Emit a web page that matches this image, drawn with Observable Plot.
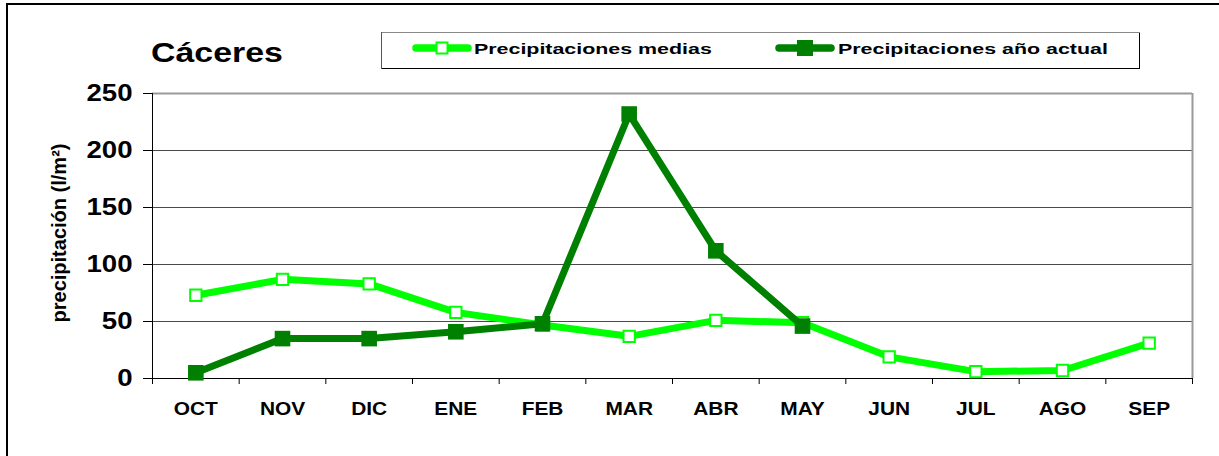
<!DOCTYPE html>
<html>
<head>
<meta charset="utf-8">
<script src="https://cdn.jsdelivr.net/npm/d3@7"></script>
<script src="https://cdn.jsdelivr.net/npm/@observablehq/plot@0.6"></script>
<style>
  html, body { margin: 0; padding: 0; background: #fff; }
  #wrap { position: relative; width: 1219px; height: 456px; overflow: hidden; font-family: "Liberation Sans", Arial, sans-serif; }
  #frame { position: absolute; left: 6px; top: 3px; width: 1260px; height: 520px; border: 2px solid #000; box-sizing: border-box; }
  #chart { position: absolute; left: 0; top: 0; }
  #chart svg text { font-weight: bold; font-family: "Liberation Sans", Arial, sans-serif; }
  #legend { position: absolute; left: 0; top: 0; }
  #legend text { font-family: "Liberation Sans", Arial, sans-serif; font-weight: bold; }
</style>
</head>
<body>
<div id="wrap">
  <div id="frame"></div>
  <div id="chart"></div>
  <svg id="legend" width="1219" height="90"></svg>
</div>
<script>
const months = ["OCT","NOV","DIC","ENE","FEB","MAR","ABR","MAY","JUN","JUL","AGO","SEP"];
const medias = [73, 87, 83, 58, 47, 37, 51, 49, 19, 6, 7, 31];
const actual = [5, 35, 35, 41, 48, 232, 112, 46];
const yTicks = [0, 50, 100, 150, 200, 250];
const titleText = "Cáceres";
const yLabel = "precipitación (l/m²)";
const seriesNames = ["Precipitaciones medias", "Precipitaciones año actual"];
const colors = ["#00FF00", "#008000"];

const mediasData = medias.map((v, i) => ({i, v}));
const actualData = actual.map((v, i) => ({i, v}));
const xc = d => d.i + 0.5;

const plot = Plot.plot({
  width: 1219,
  height: 456,
  marginLeft: 152,
  marginRight: 27,
  marginTop: 93,
  marginBottom: 78,
  x: {type: "linear", domain: [0, months.length], axis: null},
  y: {domain: [0, 250], axis: null},
  marks: [
    Plot.ruleY(yTicks.filter(t => t > 0 && t < 250), {stroke: "#4a4a4a", strokeWidth: 1}),
    Plot.ruleY([250], {stroke: "#9a9a9a", strokeWidth: 2}),
    Plot.ruleX([months.length], {y1: 0, y2: 250, stroke: "#9a9a9a", strokeWidth: 2}),
    Plot.axisY({ticks: yTicks, tickSize: 9, tickPadding: 11, fontSize: 23, stroke: "#000", label: null}),
    Plot.ruleX([0], {y1: 0, y2: 250, stroke: "#000", strokeWidth: 1}),
    Plot.ruleY([0], {stroke: "#000", strokeWidth: 1}),
    Plot.axisX({ticks: d3.range(0, months.length + 1), tickSize: 6, tickFormat: () => "", label: null}),
    Plot.axisX({ticks: months.map((m, i) => i + 0.5), tickSize: 0, tickPadding: 24, tickFormat: t => months[Math.floor(t)], fontSize: 18, label: null}),
    Plot.text([yLabel], {frameAnchor: "left", textAnchor: "middle", lineAnchor: "bottom", dx: -87, dy: -3, rotate: -90, fontSize: 20, fill: "#000"}),
    Plot.line(mediasData, {x: xc, y: "v", stroke: colors[0], strokeWidth: 7, strokeLinejoin: "miter"}),
    Plot.dot(mediasData, {x: xc, y: "v", symbol: "square", r: 6.4, fill: "#fff", stroke: colors[0], strokeWidth: 2}),
    Plot.line(actualData, {x: xc, y: "v", stroke: colors[1], strokeWidth: 7, strokeLinejoin: "miter"}),
    Plot.dot(actualData, {x: xc, y: "v", symbol: "square", r: 8.8, fill: colors[1], stroke: "none"})
  ]
});
document.getElementById("chart").appendChild(plot);

function stretch(sel, f) {
  document.querySelectorAll(sel).forEach(t => {
    const L = t.getComputedTextLength();
    if (L > 0) {
      t.setAttribute("textLength", L * f);
      t.setAttribute("lengthAdjust", "spacingAndGlyphs");
    }
  });
}
stretch('#chart g[aria-label="y-axis tick label"] text', 1.2);
stretch('#chart g[aria-label="x-axis tick label"] text', 1.16);

// Title and legend
const lg = d3.select("#legend");
lg.append("text").attr("x", 151).attr("y", 62).attr("font-size", 28).attr("fill", "#000").text(titleText)
  .attr("id", "ttl");
lg.append("rect").attr("x", 381.5).attr("y", 32.5).attr("width", 758).attr("height", 36)
  .attr("fill", "#fff").attr("stroke", "#000").attr("stroke-width", 1);
lg.append("line").attr("x1", 381).attr("x2", 1140).attr("y1", 32.5).attr("y2", 32.5).attr("stroke", "#888");
lg.append("line").attr("x1", 381.5).attr("x2", 381.5).attr("y1", 32).attr("y2", 69).attr("stroke", "#555");
const items = [
  {x1: 416, x2: 468, tx: 474, sq: 13, hollow: true},
  {x1: 779, x2: 831, tx: 838, sq: 16, hollow: false}
];
items.forEach((it, k) => {
  const cy = 48;
  lg.append("line").attr("x1", it.x1).attr("x2", it.x2).attr("y1", cy).attr("y2", cy)
    .attr("stroke", colors[k]).attr("stroke-width", 7.5).attr("stroke-linecap", "round");
  const cx = (it.x1 + it.x2) / 2;
  if (it.hollow) {
    lg.append("rect").attr("x", cx - it.sq/2 + 1).attr("y", cy - it.sq/2 + 1).attr("width", it.sq - 2).attr("height", it.sq - 2)
      .attr("fill", "#fff").attr("stroke", colors[k]).attr("stroke-width", 2);
  } else {
    lg.append("rect").attr("x", cx - it.sq/2).attr("y", cy - it.sq/2).attr("width", it.sq).attr("height", it.sq)
      .attr("fill", colors[k]);
  }
  lg.append("text").attr("class", "lgt").attr("x", it.tx).attr("y", 54.3).text(seriesNames[k])
    .attr("font-size", 15.5).attr("fill", "#000");
});
stretch("#ttl", 1.21);
stretch("#legend text.lgt", 1.38);
</script>
</body>
</html>
